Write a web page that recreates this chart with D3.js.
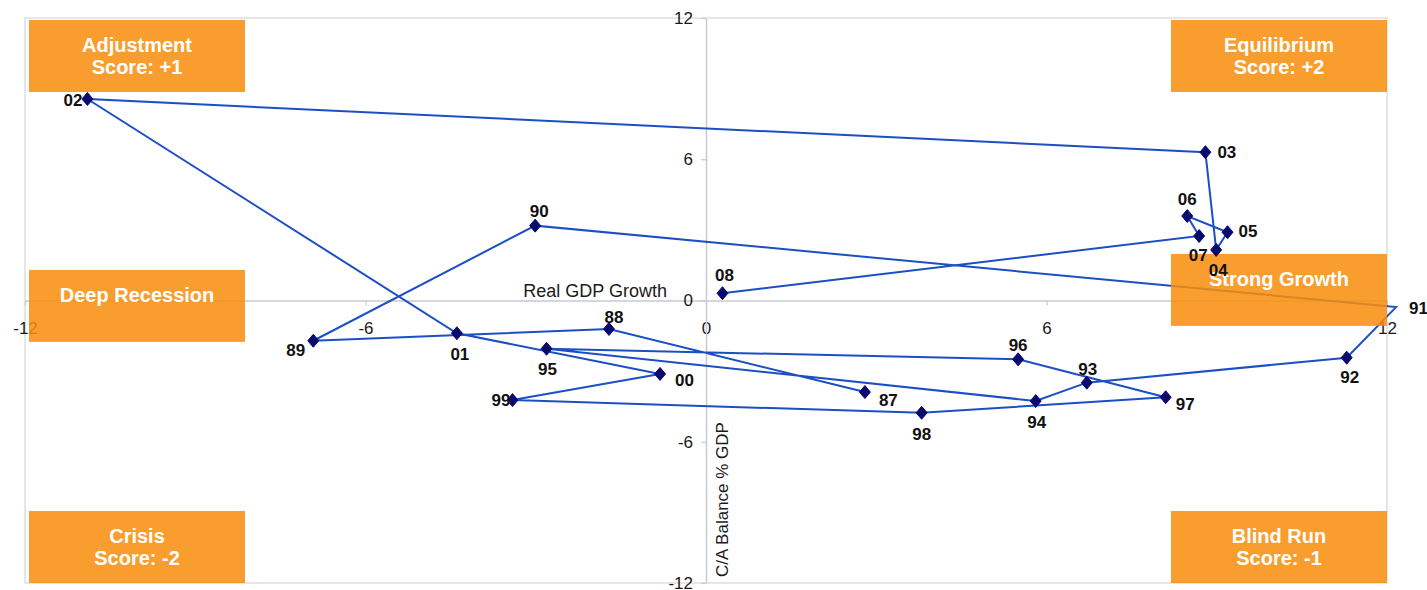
<!DOCTYPE html>
<html>
<head>
<meta charset="utf-8">
<script src="https://cdn.jsdelivr.net/npm/d3@7"></script>
<style>
  html, body { margin: 0; padding: 0; background: #ffffff; }
  svg { display: block; font-family: "Liberation Sans", Arial, Helvetica, sans-serif; }
</style>
</head>
<body>
<svg id="chart" width="1427" height="590"></svg>
<script>
// Years of observation (two-digit labels), in chronological order
const years = ["87","88","89","90","91","92","93","94","95","96","97","98","99","00","01","02","03","04","05","06","07","08"];
// Real GDP growth, %
const gdpGrowth = [2.80,-1.71,-6.92,-3.01,12.16,11.29,6.71,5.81,-2.81,5.50,8.10,3.80,-3.41,-0.81,-4.39,-10.90,8.80,8.99,9.19,8.48,8.69,0.29];
// Current account balance, % of GDP
const caBalance = [-3.89,-1.21,-1.71,3.18,-0.28,-2.43,-3.49,-4.27,-2.05,-2.50,-4.11,-4.77,-4.23,-3.12,-1.39,8.56,6.30,2.15,2.90,3.59,2.74,0.31];

// Axis ticks
const xTicks = [-12, -6, 0, 6, 12];
const yTicks = [-12, -6, 0, 6, 12];

// Quadrant / zone annotations
const zoneNames = ["Adjustment", "Equilibrium", "Deep Recession", "Strong Growth", "Crisis", "Blind Run"];
const zoneScores = ["Score: +1", "Score: +2", "", "", "Score: -2", "Score: -1"];

const svg = d3.select("#chart");
const plot = { left: 25, top: 18, right: 1387, bottom: 583 };

const x = d3.scaleLinear().domain([-12, 12]).range([plot.left, plot.right]);
const y = d3.scaleLinear().domain([-12, 12]).range([plot.bottom, plot.top]);

// plain hyphen for negative tick values
const tickFmt = d => String(d);

// plot frame
svg.append("rect")
  .attr("x", plot.left).attr("y", plot.top)
  .attr("width", plot.right - plot.left).attr("height", plot.bottom - plot.top)
  .attr("fill", "none").attr("stroke", "#d6d6d6").attr("stroke-width", 1.2);

// axes crossing at the origin
const xAxis = svg.append("g")
  .attr("transform", `translate(0,${y(0)})`)
  .call(d3.axisBottom(x).tickValues(xTicks).tickFormat(tickFmt).tickSize(5).tickSizeOuter(0).tickPadding(16));
const yAxis = svg.append("g")
  .attr("transform", `translate(${x(0)},0)`)
  .call(d3.axisLeft(y).tickValues(yTicks).tickFormat(tickFmt).tickSize(5).tickSizeOuter(0).tickPadding(8));

[xAxis, yAxis].forEach(g => {
  g.select(".domain").attr("stroke", "#c7cad4").attr("stroke-width", 1.5);
  g.selectAll(".tick line").attr("stroke", "#c7cad4").attr("stroke-width", 1.2);
  g.selectAll(".tick text")
    .attr("fill", "#1a1a1a")
    .style("font-family", "'Liberation Sans', Arial, sans-serif")
    .style("font-size", "17px");
});

// axis titles
svg.append("text")
  .attr("x", x(0) - 39).attr("y", y(0) - 4)
  .attr("text-anchor", "end")
  .attr("fill", "#1a1a1a")
  .style("font-size", "18px")
  .text("Real GDP Growth");

svg.append("text")
  .attr("transform", `translate(${x(0) + 22},${plot.bottom - 6}) rotate(-90)`)
  .attr("text-anchor", "start")
  .attr("fill", "#1a1a1a")
  .style("font-size", "17px")
  .text("C/A Balance % GDP");

// trajectory line
const pts = years.map((yr, i) => ({ yr, gx: gdpGrowth[i], ca: caBalance[i] }));
const line = d3.line().x(d => x(d.gx)).y(d => y(d.ca));
svg.append("path")
  .datum(pts)
  .attr("d", line)
  .attr("fill", "none")
  .attr("stroke", "#1c4fc4")
  .attr("stroke-width", 2)
  .attr("stroke-linejoin", "miter");

// zone boxes (semi-opaque, laid over the trajectory)
const boxW = 216, boxH = 72;
const zoneBoxes = [
  { x0: plot.left + 4, y0: plot.top + 2 },
  { x0: plot.right - boxW, y0: plot.top + 2 },
  { x0: plot.left + 4, y0: y(1.3) },
  { x0: plot.right - boxW, y0: y(1.98) },
  { x0: plot.left + 4, y0: plot.bottom - boxH },
  { x0: plot.right - boxW, y0: plot.bottom - boxH }
];
const zones = svg.append("g");
zoneBoxes.forEach((b, i) => {
  zones.append("rect")
    .attr("x", b.x0).attr("y", b.y0)
    .attr("width", boxW).attr("height", boxH)
    .attr("fill", "#f88e0c").attr("fill-opacity", 0.86);
  const cx = b.x0 + boxW / 2, cy = b.y0 + boxH / 2;
  const t = zones.append("text")
    .attr("text-anchor", "middle")
    .attr("fill", "#ffffff")
    .style("font-size", "20px")
    .style("font-weight", "bold");
  t.append("tspan").attr("x", cx).attr("y", cy - 4).text(zoneNames[i]);
  if (zoneScores[i]) t.append("tspan").attr("x", cx).attr("y", cy + 18).text(zoneScores[i]);
});

// diamond markers, clipped to the plot frame
svg.append("clipPath").attr("id", "plot-clip")
  .append("rect")
  .attr("x", plot.left).attr("y", plot.top)
  .attr("width", plot.right - plot.left).attr("height", plot.bottom - plot.top);

const diamond = {
  draw(ctx, size) {
    const w = Math.sqrt(size) * 0.55, h = Math.sqrt(size) * 0.65;
    ctx.moveTo(0, -h); ctx.lineTo(w, 0); ctx.lineTo(0, h); ctx.lineTo(-w, 0); ctx.closePath();
  }
};
svg.append("g").attr("clip-path", "url(#plot-clip)")
  .selectAll("path")
  .data(pts)
  .join("path")
  .attr("transform", d => `translate(${x(d.gx)},${y(d.ca)})`)
  .attr("d", d3.symbol().type(diamond).size(100))
  .attr("fill", "#0a0a6e")
  .attr("stroke", "#0a0a6e")
  .attr("stroke-width", 1);

// year label placement around each marker: [dx, dy, anchor]
const labelPlace = {
  "87": [14, 14, "start"], "88": [5, -6, "middle"], "89": [-8, 15, "end"], "90": [4, -9, "middle"],
  "91": [13, 7, "start"], "92": [3, 25, "middle"], "93": [1, -8, "middle"], "94": [1, 27, "middle"],
  "95": [1, 26, "middle"], "96": [0, -8, "middle"], "97": [10, 13, "start"], "98": [0, 27, "middle"],
  "99": [-2, 6, "end"], "00": [15, 12, "start"], "01": [3, 27, "middle"], "02": [-5, 7, "end"],
  "03": [12, 6, "start"], "04": [2, 26, "middle"], "05": [11, 5, "start"], "06": [0, -11, "middle"],
  "07": [-1, 25, "middle"], "08": [2, -12, "middle"]
};
svg.append("g")
  .selectAll("text")
  .data(pts)
  .join("text")
  .attr("x", d => x(d.gx) + labelPlace[d.yr][0])
  .attr("y", d => y(d.ca) + labelPlace[d.yr][1])
  .attr("text-anchor", d => labelPlace[d.yr][2])
  .attr("fill", "#111111")
  .style("font-size", "17px")
  .style("font-weight", "bold")
  .text(d => d.yr);
</script>
</body>
</html>
